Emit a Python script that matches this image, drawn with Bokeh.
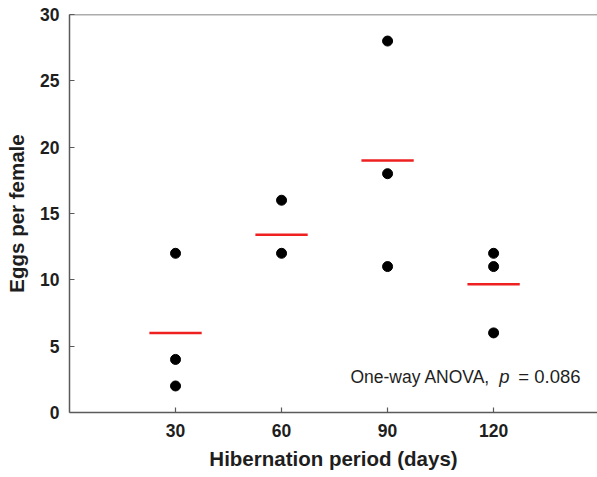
from bokeh.plotting import figure
from bokeh.models import Span, Label, FixedTicker, ColumnDataSource
from bokeh.embed import file_html
from bokeh.resources import INLINE

# Data
periods = [30, 60, 90, 120]
eggs_30 = [12, 4, 2]
eggs_60 = [16, 12]
eggs_90 = [28, 18, 11]
eggs_120 = [12, 11, 6]
means = [6.0, 13.4, 19.0, 9.67]
y_ticks = [0, 5, 10, 15, 20, 25, 30]

groups = [eggs_30, eggs_60, eggs_90, eggs_120]
xs, ys = [], []
for per, vals in zip(periods, groups):
    for v in vals:
        xs.append(per)
        ys.append(v)
pts = ColumnDataSource(dict(x=xs, y=ys))
half = 7.4
mean_src = ColumnDataSource(dict(x0=[p - half for p in periods], x1=[p + half for p in periods], y=means))

FONT = "Liberation Sans"
AXIS_COLOR = "#5a5a5a"
TEXT_COLOR = "#1e1e1e"

p = figure(width=597, height=477, x_range=(0, 149.4), y_range=(0, 30),
           output_backend="svg", toolbar_location=None,
           min_border_left=69, min_border_right=0, min_border_top=14, min_border_bottom=65)
p.outline_line_color = None
p.grid.grid_line_color = None
p.background_fill_color = "white"

p.segment(x0="x0", y0="y", x1="x1", y1="y", source=mean_src, line_color="#ee2020", line_width=2.5)
p.scatter(x="x", y="y", source=pts, size=10, fill_color="black", line_color="black")

p.add_layout(Span(location=30, dimension="width", line_color=AXIS_COLOR, line_width=1.5))

for ax in (p.xaxis[0], p.yaxis[0]):
    ax.axis_line_color = AXIS_COLOR
    ax.axis_line_width = 1.5
    ax.major_tick_line_color = AXIS_COLOR
    ax.major_tick_line_width = 1.2
    ax.major_tick_in = 5
    ax.major_tick_out = 0
    ax.minor_tick_line_color = None
    ax.major_label_text_font = FONT
    ax.major_label_text_font_style = "bold"
    ax.major_label_text_font_size = "17.5px"
    ax.major_label_text_color = TEXT_COLOR
    ax.axis_label_text_font = FONT
    ax.axis_label_text_font_style = "bold"
    ax.axis_label_text_font_size = "20.5px"
    ax.axis_label_text_color = TEXT_COLOR

p.xaxis.ticker = FixedTicker(ticks=periods)
p.yaxis.ticker = FixedTicker(ticks=y_ticks)
p.xaxis.major_label_standoff = 11
p.yaxis.major_label_standoff = 10
p.xaxis.axis_label = "Hibernation period (days)"
p.yaxis.axis_label = "Eggs per female"
p.xaxis.axis_label_standoff = 7
p.yaxis.axis_label_standoff = 9

ann_y = 2.71
common = dict(y=ann_y, text_font=FONT, text_color=TEXT_COLOR, text_baseline="middle")
p.add_layout(Label(x=79.5, text="One-way ANOVA,", text_align="left", text_font_size="17.5px", **common))
p.add_layout(Label(x=121.6, text="p", text_align="left", text_font_style="italic",
                   text_font_size="18.5px", **common))
p.add_layout(Label(x=144.6, text="= 0.086", text_align="right", text_font_size="18.5px", **common))

open("out.html", "w").write(file_html(p, INLINE))
